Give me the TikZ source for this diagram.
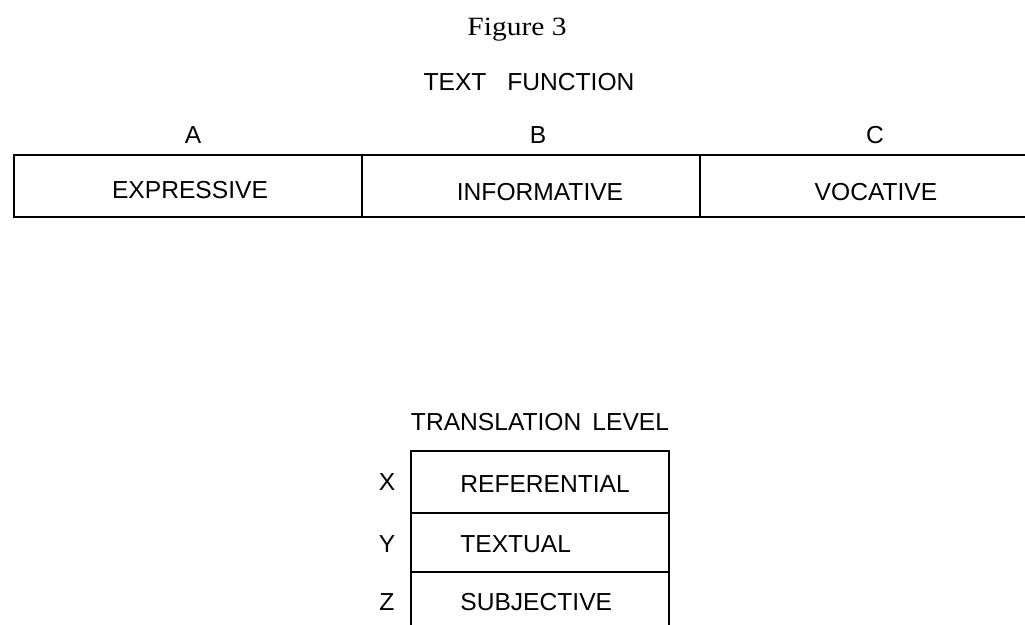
\documentclass[tikz,border=0pt]{standalone}
\usepackage{fontspec}
\setmainfont{Liberation Serif}
\newfontfamily\capsfont{Liberation Sans}
\newfontfamily\figfont[FakeStretch=1.12]{Liberation Serif}
\tikzset{
  caps/.style={font=\capsfont\fontsize{14}{16}\selectfont,inner sep=0pt},
  rule/.style={line width=1pt}
}
\begin{document}
\begin{tikzpicture}[x=0.02cm,y=-0.02cm]
                \useasboundingbox (0,0) rectangle (1025,625);
                %% titles
                \node[anchor=base,inner sep=0pt,font=\figfont\fontsize{15}{18}\selectfont] (fig) at (517,36) {Figure 3};
                \node[caps,anchor=base] (func) at (529,91) {TEXT\hspace{0.85em}FUNCTION};
                %% text function boxes
                \draw[rule] (14,155) rectangle (362,217);
                \draw[rule] (362,155) rectangle (700,217);
                \draw[rule] (1025,155) -- (700,155) -- (700,217) -- (1025,217);
                \node[caps,anchor=base] (colA) at (193,144) {A};
                \node[caps,anchor=base] (colB) at (538,144) {B};
                \node[caps,anchor=base] (colC) at (875,144) {C};
                \node[caps,anchor=base] (expr) at (190,198) {EXPRESSIVE};
                \node[caps,anchor=base] (info) at (540,200) {INFORMATIVE};
                \node[caps,anchor=base] (voc) at (876,200) {VOCATIVE};
                %% translation level column
                \node[caps,anchor=base] (level) at (540,430) {TRANSLATION\hspace{0.45em}LEVEL};
                \draw[rule] (411,630) -- (411,451) -- (669,451) -- (669,630);
                \draw[rule] (411,513) -- (669,513);
                \draw[rule] (411,572) -- (669,572);
                \node[caps,anchor=base] (rowX) at (387,490) {X};
                \node[caps,anchor=base] (rowY) at (387,552) {Y};
                \node[caps,anchor=base] (rowZ) at (387,610) {Z};
                \node[caps,anchor=base west] (ref) at (460,492) {REFERENTIAL};
                \node[caps,anchor=base west] (txt) at (460,552) {TEXTUAL};
                \node[caps,anchor=base west] (subj) at (460,610) {SUBJECTIVE};
            \end{tikzpicture}
\end{document}
